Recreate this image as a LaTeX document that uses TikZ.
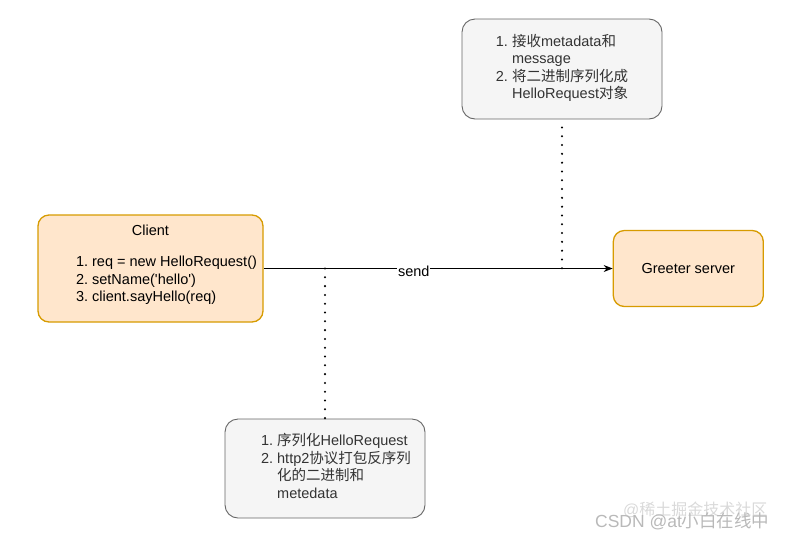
\documentclass[tikz,border=0pt]{standalone}
\usepackage{fontspec}
\setmainfont{Liberation Sans}
\newfontfamily\cjk{Noto Sans CJK SC}
\usepackage{xcolor}
\usetikzlibrary{arrows.meta,positioning}
\definecolor{orfill}{HTML}{FFE6CC}
\definecolor{ordraw}{HTML}{D79B00}
\definecolor{grfill}{HTML}{F5F5F5}
\definecolor{grdraw}{HTML}{666666}
\definecolor{grtext}{HTML}{333333}
\newcommand{\zh}[1]{{\cjk #1}}

\begin{document}
\begin{tikzpicture}[x=1pt,y=-1pt,
  font=\fontsize{14.5}{17.5}\selectfont,
  obox/.style={draw=ordraw,line width=1.3pt,fill=orfill,rounded corners=11pt,align=center},
  gbox/.style={draw=grdraw,line width=0.9pt,fill=grfill,rounded corners=13pt,align=center,
               text=grtext,minimum width=200pt,minimum height=100pt},
  dots/.style={line width=2.3pt,line cap=round,dash pattern=on 0pt off 8.8pt}]
  \useasboundingbox (0,0) rectangle (786,539);
  \node[obox,minimum width=225pt,minimum height=107pt] (client) at (150.5,268.5)
    {Client\\[17.5pt]\hspace*{32pt}\begin{tabular}{@{}r@{~}l@{}}
       1. & req = new HelloRequest()\\
       2. & setName(\textquotesingle hello\textquotesingle)\\
       3. & client.sayHello(req)\end{tabular}\\[4pt]};
  \node[obox,minimum width=150pt,minimum height=76pt,right=349pt of client] (server)
    {Greeter server};
  \node[gbox] (recv) at (562,69)
    {\begin{tabular}{@{}r@{~}l@{}}
       1. & \zh{接收}metadata\zh{和}\\
          & message\\
       2. & \zh{将二进制序列化成}\\
          & HelloRequest\zh{对象}\end{tabular}};
  \node[gbox,minimum height=99pt] (ser) at (325,468.5)
    {\hspace*{22pt}\begin{tabular}{@{}r@{~}l@{}}
       1. & \zh{序列化}HelloRequest\\
       2. & http2\zh{协议打包反序列}\\
          & \zh{化的二进制和}\\
          & metedata\end{tabular}};
  \draw[-{Stealth[length=9pt,width=7pt]},line width=0.9pt] (client) -- (server)
    node[pos=0.43,fill=white,inner sep=1pt,yshift=-3pt] (send) {send};
  % dotted links to the message line
  \draw[dots] ([yshift=-8pt]recv.south) -- (recv.south |- server.west);
  \draw[dots] (ser.north |- client.east) -- ([yshift=-6pt]ser.north);
  % watermark
  \node[text=gray!30,anchor=east,font=\fontsize{16}{18}\selectfont] (wm1) at (771,510)
    {@\zh{稀土掘金技术社区}};
  \node[text=gray!55,anchor=east,font=\fontsize{17.5}{19}\selectfont] (wm2) at (773,521)
    {CSDN @at\zh{小白在线中}};
\end{tikzpicture}
\end{document}
